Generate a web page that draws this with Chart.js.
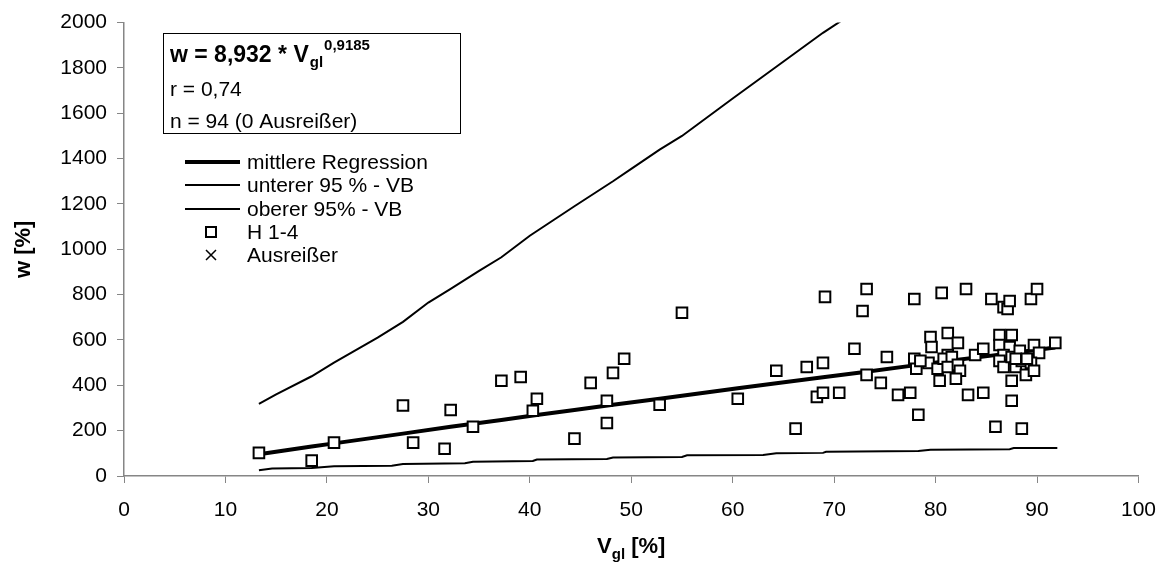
<!DOCTYPE html>
<html>
<head>
<meta charset="utf-8">
<script src="https://cdn.jsdelivr.net/npm/chart.js@4.4.0/dist/chart.umd.min.js"></script>
<style>
  html, body { margin: 0; padding: 0; background: #fff; }
  #wrap { width: 1171px; height: 567px; }
</style>
</head>
<body>
<div id="wrap"><canvas id="chart" width="1171" height="567"></canvas></div>
<script>
// H 1-4 measurements: V_gl [%] and w [%]
const pointV = [13.3, 18.5, 20.7, 27.5, 28.5, 32.2, 31.6, 34.4,
  37.2, 39.1, 40.7, 40.3, 44.4, 46.0, 47.6, 47.6, 48.2, 49.3, 52.8, 55.0, 60.5, 64.3,
  66.2, 67.3, 68.9, 69.1, 68.3, 68.9, 70.5, 72.0, 73.2, 72.8, 73.2, 74.6, 75.2, 76.3, 77.5,
  77.9, 77.9, 78.1, 78.3, 79.5, 79.6, 79.3, 80.6, 80.2, 80.4, 81.2, 81.2, 78.5,
  83.0, 85.5, 86.7, 87.1, 87.3, 89.4, 90.0, 82.2, 80.8, 81.6, 81.2, 82.2, 82.4, 82.0,
  83.2, 84.7, 83.9, 84.7, 86.3, 87.5, 86.3, 87.3, 86.7, 86.3, 86.7, 87.5, 88.3, 87.9,
  88.5, 88.9, 89.7, 90.2, 89.4, 89.7, 91.8, 87.5, 87.5, 85.9, 88.5, 87.9, 89.0];
const pointW = [102, 68, 147, 311, 147, 291, 120, 217,
  420, 437, 341, 288, 165, 411, 332, 234, 455, 517, 314, 720, 341, 464,
  209, 481, 499, 790, 349, 367, 367, 561, 825, 728, 446, 411, 525, 358, 367,
  781, 517, 473, 270, 613, 569, 499, 808, 473, 420, 631, 534, 508,
  825, 781, 745, 737, 772, 781, 825, 587, 517, 525, 481, 490, 464, 429,
  358, 367, 534, 561, 622, 622, 578, 569, 534, 508, 481, 525, 552, 481,
  508, 446, 578, 543, 499, 464, 587, 420, 332, 217, 209, 517, 517];

// mittlere Regression
const regV = [13.3, 18.5, 20.7, 27.5, 32.2, 37.2, 40.5, 44.4, 48.2, 52.8, 55.0, 60.5, 64.3, 68.9, 72.8, 77.9, 81.2, 85.5, 88.5, 91.8];
const regW = [96, 130, 144, 187, 217, 247, 268, 291, 314, 341, 354, 387, 409, 436, 458, 488, 507, 531, 548, 567];

// oberer Verlauf (steile Linie)
const upperV = [13.3, 15.0, 18.5, 20.7, 25.0, 27.5, 30.0, 32.2, 35.0, 37.2, 40.0, 44.4, 48.2, 50.0, 52.8, 55.0, 60.0, 64.3, 68.9, 73.5];
const upperW = [318, 360, 440, 500, 610, 680, 765, 825, 905, 965, 1060, 1190, 1300, 1355, 1440, 1500, 1665, 1805, 1955, 2090];

// unterer Verlauf (Stufen)
const lowerV = [13.3, 14.6, 18.5, 20.7, 26.4, 27.5, 33.6, 34.4, 40.3, 40.7, 47.6, 48.2, 55.0, 55.5, 63.0, 64.3, 68.9, 69.2, 78.3, 79.5, 87.3, 87.7, 92.0];
const lowerW = [25, 33, 35, 43, 45, 53, 56, 63, 66, 73, 75, 82, 84, 91, 93, 100, 102, 107, 110, 116, 118, 123, 124];

const xTicks = [0, 10, 20, 30, 40, 50, 60, 70, 80, 90, 100];
const yTicks = [0, 200, 400, 600, 800, 1000, 1200, 1400, 1600, 1800, 2000];

const FONT = "'Liberation Sans', Arial, sans-serif";
const AXIS = '#868686';

function xy(vs, ws) {
  return vs.map((v, i) => ({ x: v, y: ws[i] }));
}

const overlay = {
  id: 'overlay',
  afterDraw(chart) {
    const ctx = chart.ctx;
    ctx.save();
    ctx.fillStyle = '#000';
    ctx.strokeStyle = '#000';
    ctx.textBaseline = 'alphabetic';

    // Formelkasten
    ctx.lineWidth = 1;
    ctx.strokeRect(163.5, 33.5, 297, 100);
    let x = 170;
    ctx.font = 'bold 23px ' + FONT;
    const head = 'w = 8,932 * V';
    ctx.fillText(head, x, 62);
    x += ctx.measureText(head).width;
    ctx.font = 'bold 15px ' + FONT;
    ctx.fillText('gl', x + 1, 67);
    x += ctx.measureText('gl').width + 2;
    ctx.fillText('0,9185', x, 50);
    ctx.font = '21px ' + FONT;
    ctx.fillText('r = 0,74', 170, 96);
    ctx.fillText('n = 94 (0 Ausreißer)', 170, 128);

    // Legende
    const rows = [162, 185, 209, 232, 255];
    const labels = ['mittlere Regression', 'unterer 95 % - VB', 'oberer 95% - VB', 'H 1-4', 'Ausreißer'];
    ctx.textBaseline = 'middle';
    ctx.font = '21px ' + FONT;
    labels.forEach((t, i) => ctx.fillText(t, 247, rows[i] + 1));
    ctx.beginPath();
    ctx.lineWidth = 4;
    ctx.moveTo(185, rows[0]); ctx.lineTo(240, rows[0]);
    ctx.stroke();
    ctx.lineWidth = 2;
    [rows[1], rows[2]].forEach(y => {
      ctx.beginPath();
      ctx.moveTo(185, y); ctx.lineTo(240, y);
      ctx.stroke();
    });
    ctx.lineWidth = 2;
    ctx.fillStyle = '#fff';
    ctx.fillRect(206, rows[3] - 5, 10, 10);
    ctx.strokeRect(206, rows[3] - 5, 10, 10);
    ctx.beginPath();
    ctx.lineWidth = 1.5;
    ctx.moveTo(206, rows[4] - 5); ctx.lineTo(216, rows[4] + 5);
    ctx.moveTo(216, rows[4] - 5); ctx.lineTo(206, rows[4] + 5);
    ctx.stroke();

    // Achsentitel
    ctx.fillStyle = '#000';
    ctx.textBaseline = 'alphabetic';
    ctx.font = 'bold 22px ' + FONT;
    const a = ctx.measureText('V').width;
    ctx.font = 'bold 15px ' + FONT;
    const b = ctx.measureText('gl').width;
    ctx.font = 'bold 22px ' + FONT;
    const c = ctx.measureText(' [%]').width;
    let tx = (chart.chartArea.left + chart.chartArea.right) / 2 - (a + b + c) / 2;
    ctx.fillText('V', tx, 553);
    ctx.font = 'bold 15px ' + FONT;
    ctx.fillText('gl', tx + a, 559);
    ctx.font = 'bold 22px ' + FONT;
    ctx.fillText(' [%]', tx + a + b, 553);

    ctx.translate(30, (chart.chartArea.top + chart.chartArea.bottom) / 2);
    ctx.rotate(-Math.PI / 2);
    ctx.textAlign = 'center';
    ctx.fillText('w [%]', 0, 0);
    ctx.restore();
  }
};

new Chart(document.getElementById('chart'), {
  type: 'scatter',
  data: {
    datasets: [
      {
        label: 'H 1-4',
        data: xy(pointV, pointW),
        pointStyle: 'rect',
        pointRadius: 7.5,
        borderWidth: 2,
        borderColor: '#000',
        backgroundColor: '#fff',
        order: 0
      },
      {
        label: 'mittlere Regression',
        data: xy(regV, regW),
        showLine: true,
        pointRadius: 0,
        borderColor: '#000',
        borderWidth: 4,
        order: 1
      },
      {
        label: 'unterer 95 % - VB',
        data: xy(upperV, upperW),
        showLine: true,
        pointRadius: 0,
        borderColor: '#000',
        borderWidth: 2,
        order: 2
      },
      {
        label: 'oberer 95% - VB',
        data: xy(lowerV, lowerW),
        showLine: true,
        pointRadius: 0,
        borderColor: '#000',
        borderWidth: 2,
        order: 2
      }
    ]
  },
  options: {
    responsive: false,
    animation: false,
    layout: { padding: { top: 22, right: 26, left: 0, bottom: 0 } },
    plugins: {
      legend: { display: false },
      tooltip: { enabled: false }
    },
    scales: {
      x: {
        type: 'linear',
        min: 0,
        max: 100,
        afterBuildTicks: s => { s.ticks = xTicks.map(v => ({ value: v })); },
        afterFit: s => { s.height = 91; },
        ticks: { color: '#000', font: { family: FONT, size: 21 }, padding: 15, maxRotation: 0, callback: v => String(v) },
        grid: { drawOnChartArea: false, drawTicks: true, tickLength: 7, color: AXIS },
        border: { color: AXIS, width: 1.5 }
      },
      y: {
        min: 0,
        max: 2000,
        afterBuildTicks: s => { s.ticks = yTicks.map(v => ({ value: v })); },
        afterFit: s => { s.width = 124; },
        ticks: { color: '#000', font: { family: FONT, size: 21 }, padding: 10, callback: v => String(v) },
        grid: { drawOnChartArea: false, drawTicks: true, tickLength: 7, color: AXIS },
        border: { color: AXIS, width: 1.5 }
      }
    }
  },
  plugins: [overlay]
});
</script>
</body>
</html>
